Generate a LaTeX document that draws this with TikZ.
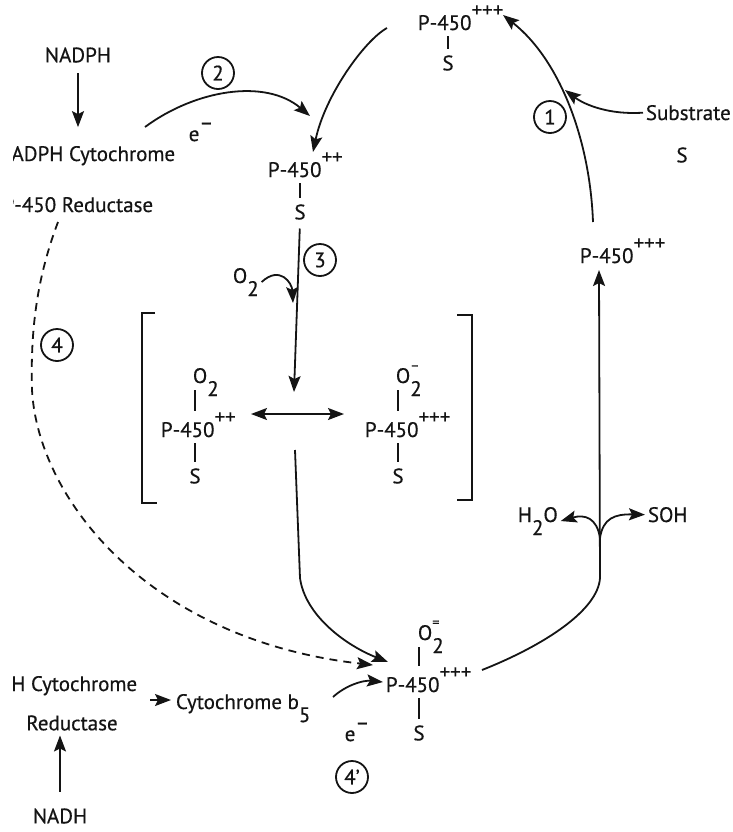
\documentclass[tikz,border=0pt]{standalone}
\usepackage{fontspec}
\setmainfont{PT Sans}[FakeBold=0.5]
\usepackage{tikz}
\usetikzlibrary{arrows.meta}
\definecolor{inkblack}{RGB}{20, 20, 20}
% charges, subscripts and dioxygen
\newcommand{\chg}[1]{\raisebox{0.62em}{#1}}
\newcommand{\lowr}[1]{\raisebox{-0.62em}{#1}}
\newcommand{\oxy}[1]{O\rlap{\raisebox{0.62em}{\scriptsize #1}}\lowr{2}}

\begin{document}
\begin{tikzpicture}[x=0.5pt, y=-0.5pt, line width=0.9pt, color=inkblack,
    >={Stealth[length=8pt, width=6pt, inset=1.5pt]},
    every node/.style={inner sep=1pt, font=\fontsize{10.5}{12}\selectfont},
    num/.style={circle, draw, inner sep=0pt, minimum size=16pt},
    bond/.style={line width=0.8pt, shorten <=2pt, shorten >=3pt},
    dashline/.style={dash pattern=on 4pt off 3pt}]
    \useasboundingbox (0,0) rectangle (733,832);
    \begin{scope}
    \clip (13,-5) rectangle (740,840);

    % Reductase chain (NADPH)
    \node (nadph) at (78,55) {NADPH};
    \node[anchor=base east] (redA1) at (178,161) {NADPH Cytochrome};
    \node[anchor=base east] (redA2) at (156,212) {P-450 Reductase};
    \draw[->, shorten <=4pt, shorten >=8pt] (nadph.south) -- (nadph.south |- redA1.north);

    % Substrate bound, oxidised
    \node[anchor=base west] (pTop) at (415,30) {P-450\chg{+++}};
    \node (sTop) at (448,63) {S};
    \draw[bond] (sTop.north) -- (sTop.north |- pTop.base);

    % Reduced P-450
    \node[anchor=base west] (p2) at (265,177) {P-450\chg{++}};
    \node (s2) at (300,212) {S};
    \draw[bond] (s2.north) -- (s2.north |- p2.base);

    % Oxygenated complex
    \node[anchor=base west] (o2in) at (230,283) {\lowr{}O\lowr{2}};
    \node[anchor=base west] (o2L) at (190,383) {\oxy{}};
    \node[anchor=base west] (pL) at (158,437) {P-450\chg{++}};
    \node (sL) at (195,476) {S};
    \node[anchor=base west] (o2R) at (393,383) {\oxy{--}};
    \node[anchor=base west] (pR) at (362,437) {P-450\chg{+++}};
    \node (sR) at (398,476) {S};
    \draw[bond] (sL.north) -- (sL.north |- pL.base);
    \draw[bond] (sR.north) -- (sR.north |- pR.base);
    \draw[bond, shorten <=3.5pt, shorten >=13pt] (sL |- o2L.base) -- (sL |- pL.base);
    \draw[bond, shorten <=3.5pt, shorten >=13pt] (sR |- o2R.base) -- (sR |- pR.base);
    \draw (155,313) -- (142,313) -- (142,503) -- (157,503);
    \draw (457,315) -- (472,315) -- (472,500) -- (457,500);

    % Peroxide complex
    \node[anchor=base west] (o2B) at (415,640) {\oxy{=}};
    \node[anchor=base west] (pBot) at (383,692) {P-450\chg{+++}};
    \node (sB) at (419,733) {S};
    \draw[bond] (sB.north) -- (sB.north |- pBot.base);
    \draw[bond, shorten <=3.5pt, shorten >=13pt] (sB |- o2B.base) -- (sB |- pBot.base);

    % Free enzyme and products
    \node[anchor=base west] (pRt) at (577,263) {P-450\chg{+++}};
    \node[anchor=base west] (subs) at (643,120) {Substrate};
    \node (subsS) at (682,155) {S};
    \node[anchor=base west] (h2o) at (515,522) {H\lowr{2}O};
    \node[anchor=base west] (soh) at (645,522) {SOH};

    % Reductase chain (NADH)
    \node[anchor=base east] (redB1) at (140,691) {NADH Cytochrome};
    \node (redB2) at (72,723) {Reductase};
    \node[anchor=base west] (cytb5) at (173,709) {Cytochrome b\lowr{5}};
    \node (nadh) at (60,816) {NADH};
    \coordinate (b5row) at (0,700);
    \draw[->, shorten <=5pt, shorten >=1pt] (redB1.east |- b5row) -- (cytb5.west |- b5row);
    \draw[->, shorten <=7pt, shorten >=1pt] (nadh.north) -- (nadh.north |- redB2.south);

    % Electrons and step numbers
    \node (e2) at (201,132) {e\raisebox{0.55em}{--}};
    \node (e4) at (357,732) {e\raisebox{0.55em}{--}};
    \node[num] (c1) at (550,117) {1};
    \node[num] (c2) at (218,73) {2};
    \node[num] (c3) at (320,260) {3};
    \node[num] (c4) at (57,345) {4};
    \node[num] (c4p) at (352,777) {4'};

    % Free ends
    \coordinate (e2from) at (145,127);
    \coordinate (e2to) at (310,116);
    \coordinate (topout) at (387,28);
    \coordinate (p2in) at (313,152);
    \coordinate (o2tip) at (293,303);
    \coordinate (o2join) at (294,392);
    \coordinate (dl) at (251,414);
    \coordinate (dr) at (344,414);
    \coordinate (cplxout) at (295,450);
    \coordinate (cplxbend) at (300,578);
    \coordinate (pBotin) at (388,662);
    \coordinate (dashfrom) at (58,222);
    \coordinate (dashto) at (373,665);
    \coordinate (b5out) at (333,697);
    \coordinate (pBotleft) at (383,682);
    \coordinate (pBotout) at (482,670);
    \coordinate (loopbot) at (600,578);
    \coordinate (fork) at (600,538);
    \coordinate (pRtin) at (599,270);
    \coordinate (pRtout) at (593,222);
    \coordinate (pTopin) at (503,15);
    \coordinate (subsin) at (565,90);

    % Cycle arrows
    \draw[->] (e2from) .. controls (195,90) and (265,78) .. (e2to);
    \draw[->] (topout) .. controls (365,40) and (325,95) .. (p2in);
    \draw[->, shorten <=3pt] (s2.south) -- (o2join);
    \draw[->] (o2in.east) .. controls (280,265) and (292,283) .. (o2tip);
    \draw[<->] (dl) -- (dr);
    \draw[->] (cplxout) -- (cplxbend) .. controls (305,615) and (345,645) .. (pBotin);
    \draw[->, dashline] (dashfrom) .. controls (40,270) and (30,320) .. (32,390)
        .. controls (38,500) and (150,640) .. (dashto);
    \draw[->] (b5out) .. controls (345,686) and (362,680) .. (pBotleft);
    \draw[->] (pBotout) .. controls (545,645) and (598,610) .. (loopbot) -- (pRtin);
    \draw[->] (fork) .. controls (597,518) and (585,514) .. (h2o.east);
    \draw[->] (fork) .. controls (603,518) and (615,514) .. (soh.west);
    \draw[->] (pRtout) .. controls (590,140) and (560,60) .. (pTopin);
    \draw[->] (subs.west) .. controls (610,115) and (585,105) .. (subsin);
    \end{scope}
\end{tikzpicture}
\end{document}
